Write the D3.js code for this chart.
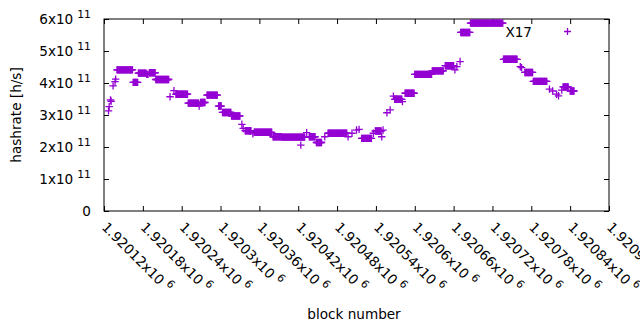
<!DOCTYPE html>
<html>
<head>
<meta charset="utf-8">
<script src="https://cdn.jsdelivr.net/npm/d3@7"></script>
<style>
  body { margin: 0; background: #fff; }
  text { font-family: "DejaVu Sans", sans-serif; fill: #000; }
</style>
</head>
<body>
<div id="chart"></div>
<script>
(function () {
  "use strict";

  // runs of blocks with the same hashrate (start block, end block, value in h/s)
  const runStart = [1920127, 1920128, 1920130, 1920131, 1920134, 1920137, 1920138, 1920140, 1920165, 1920173,
    1920186, 1920190, 1920200, 1920222, 1920228, 1920231, 1920250, 1920267, 1920269, 1920279,
    1920297, 1920303, 1920317, 1920333, 1920335, 1920338, 1920350, 1920352, 1920381, 1920395,
    1920424, 1920433, 1920437, 1920448, 1920461, 1920466, 1920497, 1920503, 1920510, 1920514,
    1920518, 1920536, 1920539, 1920549, 1920551, 1920557, 1920562, 1920567, 1920569, 1920581,
    1920585, 1920600, 1920627, 1920647, 1920662, 1920665, 1920670, 1920671, 1920686, 1920737,
    1920763, 1920765, 1920770, 1920783, 1920808, 1920813, 1920819, 1920822, 1920827, 1920829,
    1920840];
  const runEnd = [1920127, 1920128, 1920130, 1920131, 1920134, 1920137, 1920138, 1920164, 1920172, 1920185,
    1920188, 1920199, 1920220, 1920222, 1920228, 1920249, 1920266, 1920267, 1920276, 1920295,
    1920301, 1920316, 1920330, 1920333, 1920335, 1920347, 1920350, 1920379, 1920394, 1920430,
    1920424, 1920433, 1920446, 1920456, 1920461, 1920495, 1920497, 1920503, 1920510, 1920514,
    1920533, 1920536, 1920548, 1920549, 1920551, 1920557, 1920562, 1920567, 1920580, 1920581,
    1920599, 1920626, 1920644, 1920660, 1920662, 1920665, 1920670, 1920685, 1920736, 1920758,
    1920763, 1920765, 1920782, 1920804, 1920808, 1920813, 1920819, 1920822, 1920827, 1920837,
    1920846];
  const hashrate = [3.13e11, 3.26e11, 3.47e11, 3.43e11, 3.91e11, 4.04e11, 4.12e11, 4.41e11, 4.02e11, 4.31e11,
    4.27e11, 4.32e11, 4.11e11, 3.57e11, 3.76e11, 3.65e11, 3.37e11, 3.28e11, 3.39e11, 3.62e11,
    3.28e11, 3.08e11, 2.97e11, 2.71e11, 2.58e11, 2.51e11, 2.41e11, 2.46e11, 2.32e11, 2.31e11,
    2.06e11, 2.45e11, 2.32e11, 2.14e11, 2.32e11, 2.43e11, 2.32e11, 2.43e11, 2.53e11, 2.55e11,
    2.27e11, 2.43e11, 2.50e11, 2.32e11, 2.53e11, 3.07e11, 3.16e11, 3.59e11, 3.49e11, 3.42e11,
    3.68e11, 4.27e11, 4.38e11, 4.54e11, 4.41e11, 4.51e11, 4.67e11, 5.58e11, 5.87e11, 4.74e11,
    4.51e11, 4.48e11, 4.33e11, 4.05e11, 3.81e11, 3.75e11, 3.65e11, 3.60e11, 3.78e11, 3.88e11,
    3.75e11];

  const xTicks = [1920120, 1920180, 1920240, 1920300, 1920360, 1920420, 1920480,
    1920540, 1920600, 1920660, 1920720, 1920780, 1920840, 1920900];
  const xTickLabels = ["1.92012", "1.92018", "1.92024", "1.9203", "1.92036", "1.92042", "1.92048",
    "1.92054", "1.9206", "1.92066", "1.92072", "1.92078", "1.92084", "1.9209"];
  const yTicks = [0, 1e11, 2e11, 3e11, 4e11, 5e11, 6e11];
  const yTickLabels = ["0", "1", "2", "3", "4", "5", "6"];

  const seriesName = "X17";
  const color = "#9400d3";

  const width = 640;
  const height = 330;
  const margin = { top: 19, right: 31, bottom: 119, left: 104 };
  const w = width - margin.left - margin.right;
  const h = height - margin.top - margin.bottom;

  // one point per block inside each run
  const points = [];
  runStart.forEach((s, i) => {
    for (let b = s; b <= runEnd[i]; b++) points.push({ block: b, value: hashrate[i] });
  });

  const svg = d3.select("#chart")
    .append("svg")
    .attr("width", width)
    .attr("height", height);

  const g = svg.append("g").attr("transform", `translate(${margin.left},${margin.top})`);

  const x = d3.scaleLinear().domain([1920120, 1920900]).range([0, w]);
  const y = d3.scaleLinear().domain([0, 6e11]).range([h, 0]);

  // ticks on all four sides, pointing inward
  g.append("g").attr("transform", `translate(0,${h})`)
    .call(d3.axisBottom(x).tickValues(xTicks).tickSize(-5).tickSizeOuter(0).tickFormat(""));
  g.append("g")
    .call(d3.axisTop(x).tickValues(xTicks).tickSize(-5).tickSizeOuter(0).tickFormat(""));
  const yAxis = g.append("g")
    .call(d3.axisLeft(y).tickValues(yTicks).tickSize(-5).tickSizeOuter(0).tickPadding(13));
  g.append("g").attr("transform", `translate(${w},0)`)
    .call(d3.axisRight(y).tickValues(yTicks).tickSize(-5).tickSizeOuter(0).tickFormat(""));

  g.selectAll(".domain").remove();
  g.selectAll(".tick line").attr("stroke", "#000");

  // y labels like 6x10^11
  yAxis.selectAll(".tick text")
    .attr("font-size", 13.6)
    .attr("font-family", "DejaVu Sans")
    .attr("fill", "#000")
    .each(function (d, i) {
      const t = d3.select(this).text("");
      if (d === 0) {
        t.append("tspan").text(yTickLabels[i]);
      } else {
        t.append("tspan").text(yTickLabels[i] + "x10");
        t.append("tspan").attr("dx", 4).attr("dy", -6).attr("font-size", 10.8).text("11");
      }
    });

  // rotated x labels
  g.append("g")
    .selectAll("text")
    .data(xTicks)
    .join("text")
    .attr("transform", (d) => `translate(${x(d) - 3},${h + 17}) rotate(45)`)
    .attr("font-size", 13.6)
    .each(function (d, i) {
      const t = d3.select(this);
      t.append("tspan").text(xTickLabels[i] + "x10");
      t.append("tspan").attr("dx", 4).attr("dy", -6).attr("font-size", 10.8).text("6");
    });

  // frame
  g.append("rect")
    .attr("width", w)
    .attr("height", h)
    .attr("fill", "none")
    .attr("stroke", "#000")
    .attr("stroke-width", 1);

  // points as '+'
  const s = 3.7;
  g.append("g")
    .selectAll("path")
    .data(points)
    .join("path")
    .attr("d", (d) => {
      const px = x(d.block), py = y(d.value);
      return `M${px - s},${py}H${px + s}M${px},${py - s}V${py + s}`;
    })
    .attr("stroke", color)
    .attr("stroke-width", 1.3)
    .attr("fill", "none");

  // legend
  svg.append("text")
    .attr("x", 532)
    .attr("y", 36.5)
    .attr("text-anchor", "end")
    .attr("font-size", 13.6)
    .text(seriesName);
  svg.append("path")
    .attr("d", "M564,31.5H571M567.5,28V35")
    .attr("stroke", color)
    .attr("stroke-width", 1.3);

  // axis titles
  svg.append("text")
    .attr("transform", "translate(21,115) rotate(-90)")
    .attr("text-anchor", "middle")
    .attr("font-size", 13.6)
    .text("hashrate [h/s]");
  svg.append("text")
    .attr("x", 354)
    .attr("y", 319)
    .attr("text-anchor", "middle")
    .attr("font-size", 13.6)
    .text("block number");
})();
</script>
</body>
</html>
